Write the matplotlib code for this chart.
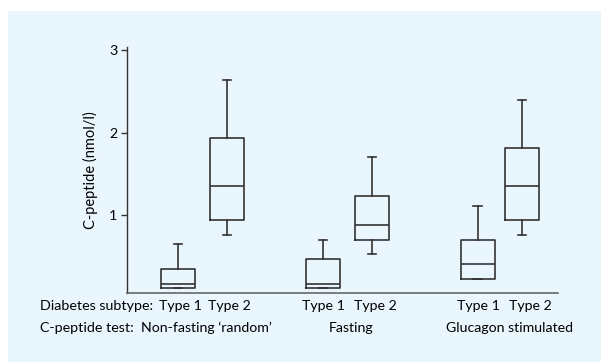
import matplotlib
matplotlib.use('Agg')
import matplotlib.pyplot as plt
import matplotlib.transforms as mtransforms
from matplotlib.patches import Rectangle

plt.rcParams['font.family'] = ['Lato', 'DejaVu Sans']

# box statistics (nmol/l)
subtypes = ['Type 1', 'Type 2', 'Type 1', 'Type 2', 'Type 1', 'Type 2']
tests = ['Non-fasting \u2018random\u2019', 'Fasting', 'Glucagon stimulated']
whisker_low = [0.11, 0.76, 0.11, 0.53, 0.23, 0.76]
q1 = [0.11, 0.94, 0.11, 0.70, 0.23, 0.94]
medians = [0.17, 1.35, 0.17, 0.88, 0.41, 1.35]
q3 = [0.35, 1.94, 0.47, 1.23, 0.70, 1.82]
whisker_high = [0.65, 2.64, 0.70, 1.70, 1.11, 2.40]

positions = [1, 2, 3.96, 4.96, 7.12, 8.02]
subtype_label_x = [1.06, 2.04, 3.97, 5.02, 7.14, 8.20]
test_label_x = [1.59, 4.53, 7.76]

fig = plt.figure(figsize=(6.01, 3.62), dpi=100)
fig.patch.set_facecolor('white')
fig.patches.append(Rectangle((8 / 601, 0), 1, (362 - 11) / 362,
                             transform=fig.transFigure, facecolor='#eaf6fd',
                             edgecolor='none', zorder=-5))

ax = fig.add_axes([127 / 601, (362 - 293) / 362, (558 - 127) / 601, (293 - 47) / 362])
ax.set_facecolor('none')

stats = []
for i in range(len(subtypes)):
    stats.append({'whislo': whisker_low[i], 'q1': q1[i], 'med': medians[i],
                  'q3': q3[i], 'whishi': whisker_high[i], 'fliers': []})

line_col = '#333333'
ax.bxp(stats, positions=positions, widths=0.69, capwidths=0.18,
       showfliers=False, patch_artist=False,
       boxprops=dict(color=line_col, linewidth=1.2),
       medianprops=dict(color=line_col, linewidth=1.2),
       whiskerprops=dict(color=line_col, linewidth=1.2),
       capprops=dict(color=line_col, linewidth=1.2))

ax.set_xlim(-0.04, 8.755)
ax.set_ylim(0.055, 3.04)
ax.set_xticks([])
ax.set_yticks([1, 2, 3])
ax.set_yticklabels(['1', '2', '3'])
ax.tick_params(axis='y', direction='out', length=4, width=1, color='#333333',
               labelsize=10.2, pad=3)
for s in ['top', 'right']:
    ax.spines[s].set_visible(False)
ax.spines['left'].set_color('#333333')
ax.spines['bottom'].set_color('#666666')
ax.spines['left'].set_linewidth(1)
ax.spines['bottom'].set_linewidth(1.2)

ax.set_ylabel('C-peptide (nmol/l)', fontsize=10.5)
ax.yaxis.set_label_coords(-0.067, 0.5)

trans = mtransforms.blended_transform_factory(ax.transData, fig.transFigure)
y_sub = (362 - 305.7) / 362
y_test = (362 - 327.7) / 362
fig.text(40 / 601, y_sub, 'Diabetes subtype:', fontsize=10.3, va='center', ha='left')
fig.text(40 / 601, y_test, 'C-peptide test:', fontsize=10.3, va='center', ha='left')
for x, s in zip(subtype_label_x, subtypes):
    ax.text(x, y_sub, s, transform=trans, fontsize=10.2, ha='center', va='center')
for x, t in zip(test_label_x, tests):
    ax.text(x, y_test, t, transform=trans, fontsize=10.2, ha='center', va='center')

fig.savefig('out.png', dpi=100)
